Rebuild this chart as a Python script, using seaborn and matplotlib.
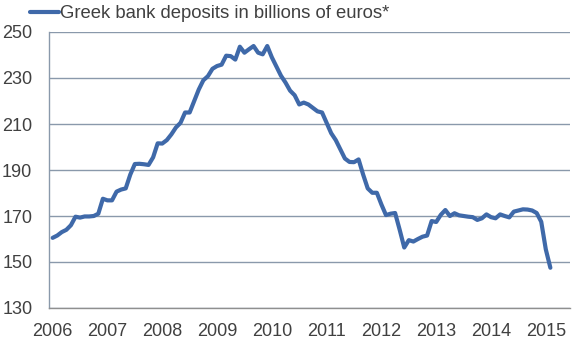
import matplotlib
matplotlib.use("Agg")
import matplotlib.pyplot as plt
import seaborn as sns
import pandas as pd
import numpy as np

years = ["2006", "2007", "2008", "2009", "2010", "2011", "2012", "2013", "2014", "2015"]
series_label = "Greek bank deposits in billions of euros*"
# Monthly values, Jan 2006 - Feb 2015
deposits = [
    160.5, 161.5, 163.0, 164.0, 166.0, 169.7, 169.3, 169.8, 169.8, 170.0, 171.0, 177.5,
    176.8, 176.8, 180.6, 181.5, 182.0, 188.0, 192.6, 192.7, 192.5, 192.2, 195.5, 201.6,
    201.5, 203.0, 205.5, 208.5, 210.5, 215.0, 215.0, 220.0, 225.0, 229.0, 230.8, 234.0,
    235.2, 235.8, 239.7, 239.5, 238.0, 243.6, 241.0, 242.5, 243.9, 241.0, 240.3, 243.9,
    239.0, 235.0, 231.0, 228.0, 224.5, 222.5, 218.5, 219.3, 218.5, 217.0, 215.5, 215.0,
    210.5, 206.0, 203.0, 199.0, 195.0, 193.5, 193.4, 194.6, 188.0, 182.0, 180.1, 180.1,
    175.0, 170.4, 171.0, 171.3, 164.0, 156.3, 159.5, 158.9, 160.0, 161.0, 161.5, 167.8,
    167.4, 170.5, 172.6, 170.0, 171.2, 170.3, 170.0, 169.7, 169.5, 168.3, 169.0, 170.7,
    169.5, 169.0, 170.7, 170.0, 169.4, 171.9, 172.4, 172.9, 172.8, 172.4, 171.3, 167.5,
    155.5, 147.5,
]
y_ticks = [130, 150, 170, 190, 210, 230, 250]

df = pd.DataFrame({"month": np.arange(len(deposits)), "value": deposits})

sns.set_style("white")
plt.rcParams["font.family"] = ["Liberation Sans", "DejaVu Sans"]

fig = plt.figure(figsize=(5.76, 3.45), dpi=100)
ax = fig.add_axes([49/576, 1 - 308/345, (570 - 49)/576, (308 - 32)/345])

line_color = "#3F69A9"
text_color = "#404040"
grid_color = "#8A99AB"

sns.lineplot(data=df, x="month", y="value", ax=ax, color=line_color, linewidth=3.0,
             label=series_label)

ax.set_ylim(130, 250)
ax.set_yticks(y_ticks)
ax.set_xlim(-0.8, 113.3)
ax.set_xticks(np.arange(len(years)) * 12)
ax.set_xticklabels(years)
ax.set_xlabel("")
ax.set_ylabel("")

ax.grid(axis="y", color=grid_color, linewidth=1.0)
ax.set_axisbelow(True)
for s in ["top", "right"]:
    ax.spines[s].set_visible(False)
ax.spines["left"].set_color(grid_color)
ax.spines["bottom"].set_color("#8F8F8F")
ax.spines["left"].set_linewidth(1.0)
ax.spines["bottom"].set_linewidth(1.0)

ax.tick_params(axis="both", length=0, labelsize=13, colors=text_color)
ax.tick_params(axis="y", pad=12)
ax.tick_params(axis="x", pad=11)

ax.get_legend().remove()
leg = fig.legend(loc="center left", bbox_to_anchor=(30/576, 1 - 14/345),
                 bbox_transform=fig.transFigure, frameon=False, fontsize=13.3,
                 borderpad=0, borderaxespad=0, handlelength=1.55, handletextpad=0.1)
for t in leg.get_texts():
    t.set_color(text_color)

fig.savefig("out.png", dpi=100)
